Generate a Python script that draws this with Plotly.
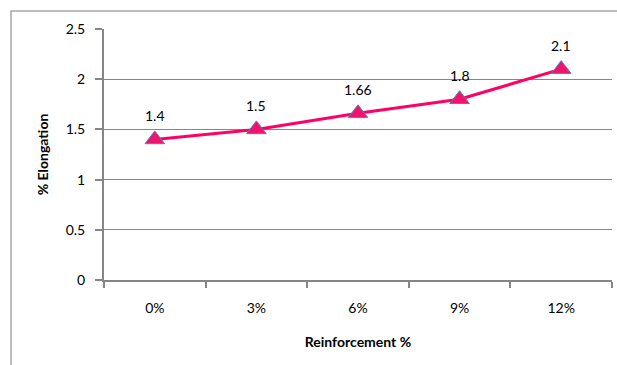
import plotly.graph_objects as go

# Elongation vs reinforcement content
reinforcement = ["0%", "3%", "6%", "9%", "12%"]
elongation = [1.4, 1.5, 1.66, 1.8, 2.1]
value_labels = ["1.4", "1.5", "1.66", "1.8", "2.1"]
y_ticks = [0, 0.5, 1, 1.5, 2, 2.5]
y_tick_text = ["0", "0.5", "1", "1.5", "2", "2.5"]

FONT = "Lato, Open Sans, sans-serif"
AXIS_GREY = "#868686"

fig = go.Figure()
fig.add_trace(go.Scatter(
    x=reinforcement,
    y=elongation,
    mode="lines+markers",
    line=dict(color="#FF0066", width=3),
    marker=dict(symbol="triangle-up", size=17, color="#F0146E",
                line=dict(color="#4F81BD", width=1)),
    showlegend=False,
    hoverinfo="x+y",
))

for xv, yv, txt in zip(reinforcement, elongation, value_labels):
    fig.add_annotation(x=xv, y=yv, text=txt, showarrow=False,
                       yshift=24, font=dict(family=FONT, size=14, color="#000"))

# outer chart-area border (only left and top edges fall inside the frame)
fig.add_shape(type="rect", xref="paper", yref="paper",
              x0=(11 - 104) / 508, x1=1.2, y0=-0.5, y1=1 + (29 - 11) / 251,
              line=dict(color="#A6A6A6", width=1.5), layer="below")

fig.update_layout(
    width=617, height=365,
    margin=dict(l=104, r=5, t=29, b=85),
    paper_bgcolor="white", plot_bgcolor="white",
    font=dict(family=FONT, size=14, color="#000"),
    xaxis=dict(
        type="category",
        tickson="boundaries",
        ticks="outside", ticklen=6, tickcolor=AXIS_GREY, tickwidth=1.5,
        ticklabelstandoff=14,
        showline=True, linecolor=AXIS_GREY, linewidth=2,
        showgrid=False,
        range=[-0.5, 4.5],
        tickfont=dict(family=FONT, size=14),
        title=dict(text="<b>Reinforcement %</b>", standoff=22,
                   font=dict(family=FONT, size=14)),
    ),
    yaxis=dict(
        range=[0, 2.5],
        tickvals=y_ticks, ticktext=y_tick_text,
        ticks="outside", ticklen=7, tickcolor=AXIS_GREY, tickwidth=1.5,
        ticklabelstandoff=7,
        showline=True, linecolor=AXIS_GREY, linewidth=2,
        showgrid=True, gridcolor=AXIS_GREY, gridwidth=1,
        zeroline=False,
        tickfont=dict(family=FONT, size=14),
        title=dict(text="<b>% Elongation</b>", standoff=14,
                   font=dict(family=FONT, size=14)),
    ),
)

fig.write_html("out.html")
